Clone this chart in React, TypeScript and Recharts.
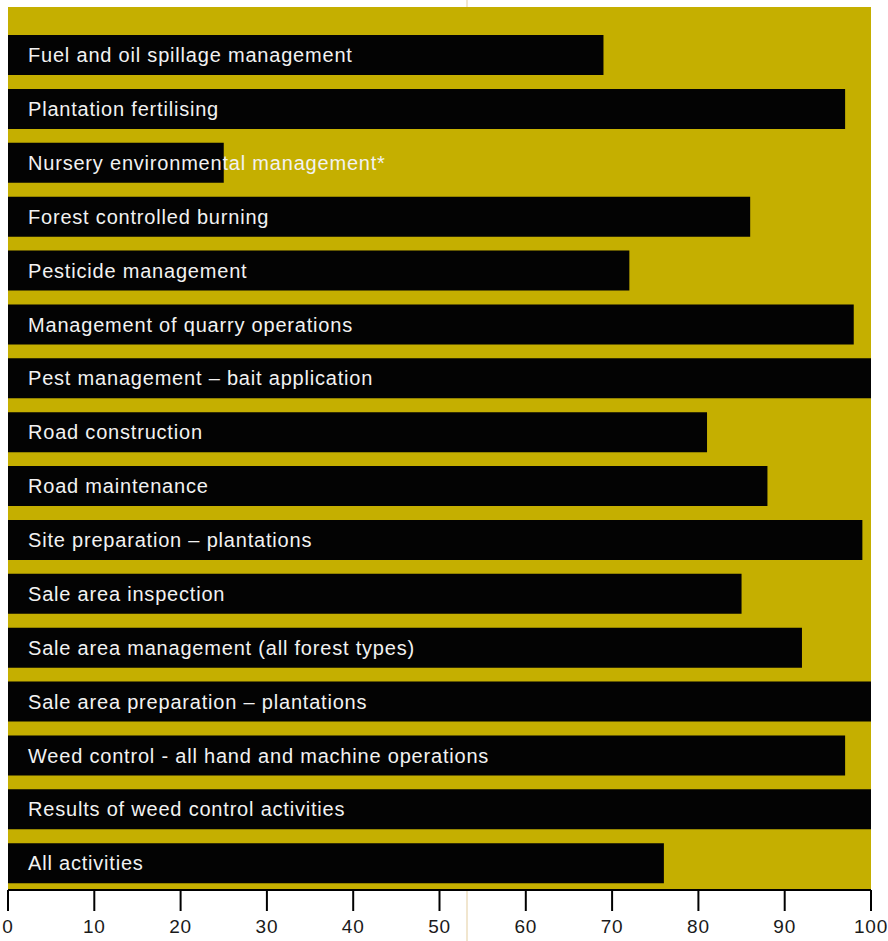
import { Bar, BarChart, LabelList, XAxis, YAxis } from "recharts"

const activities = [
  "Fuel and oil spillage management",
  "Plantation fertilising",
  "Nursery environmental management*",
  "Forest controlled burning",
  "Pesticide management",
  "Management of quarry operations",
  "Pest management – bait application",
  "Road construction",
  "Road maintenance",
  "Site preparation – plantations",
  "Sale area inspection",
  "Sale area management (all forest types)",
  "Sale area preparation – plantations",
  "Weed control - all hand and machine operations",
  "Results of weed control activities",
  "All activities",
]

const scores = [69, 97, 25, 86, 72, 98, 100, 81, 88, 99, 85, 92, 100, 97, 100, 76]

const xTicks = [0, 10, 20, 30, 40, 50, 60, 70, 80, 90, 100]

const data = activities.map((name, i) => ({ name, value: scores[i] }))

const font = "'Liberation Sans', Arial, sans-serif"

const renderName = (props: any) => {
  const { x, y, height, value } = props
  return (
    <text
      x={x + 20}
      y={y + height / 2}
      dy="0.36em"
      fill="#f2f2f2"
      fontSize={20}
      letterSpacing={0.8}
      fontFamily={font}
    >
      {value}
    </text>
  )
}

export default function App() {
  return (
    <div style={{ position: "absolute", left: 0, top: 0, width: 888, height: 941 }}>
      <div
        style={{
          position: "absolute",
          left: 466,
          top: 0,
          width: 2,
          height: 941,
          background: "#f1e6cf",
        }}
      />
      <div style={{ position: "absolute", left: 0, top: 0 }}>
        <BarChart
          width={888}
          height={941}
          data={data}
          layout="vertical"
          margin={{ top: 7, right: 17, bottom: 0, left: 8 }}
          barSize={40}
        >
          <rect x={8} y={7} width={863} height={883} fill="#c5af00" />
          <XAxis
            type="number"
            domain={[0, 100]}
            ticks={xTicks}
            height={51}
            tickSize={21}
            tickMargin={9}
            axisLine={{ stroke: "#000", strokeWidth: 2 }}
            tickLine={{ stroke: "#000", strokeWidth: 2 }}
            tick={{ fill: "#1a1a1a", fontSize: 19, letterSpacing: 0.8, fontFamily: font }}
            interval={0}
          />
          <YAxis
            type="category"
            dataKey="name"
            width={0}
            tick={false}
            tickLine={false}
            padding={{ top: 21, bottom: 0 }}
            axisLine={{ stroke: "#000", strokeWidth: 2 }}
          />
          <Bar dataKey="value" fill="#030303" isAnimationActive={false}>
            <LabelList dataKey="name" content={renderName} />
          </Bar>
        </BarChart>
      </div>
    </div>
  )
}
